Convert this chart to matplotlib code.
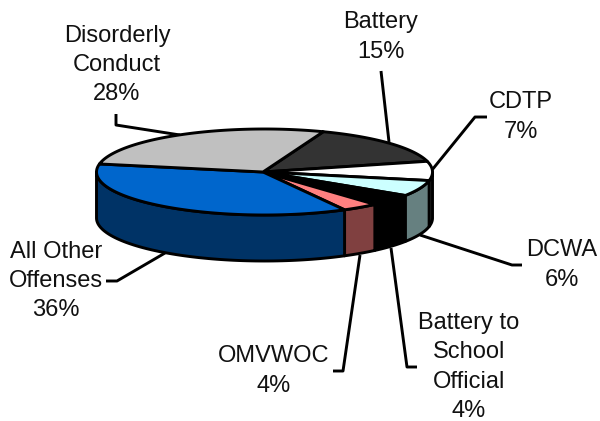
# -*- coding: utf-8 -*-
import numpy as np
import matplotlib
matplotlib.use('Agg')
import matplotlib.pyplot as plt
from matplotlib.patches import Polygon

plt.rcParams['font.family'] = ['Liberation Sans', 'DejaVu Sans']

# datos, en sentido horario desde Battery
nombres = ['Battery', 'CDTP', 'DCWA', 'Battery to\nSchool\nOfficial', 'OMVWOC',
           'All Other\nOffenses', 'Disorderly\nConduct']
etiquetas = [15, 7, 6, 4, 4, 36, 28]
# estimados del dibujo, los porcentajes de arriba vienen redondeados
valores = [15.3, 7.2, 6.0, 4.4, 3.5, 35.9, 27.7]
color_top = ['#333333', '#FFFFFF', '#CCFFFF', '#000000', '#FF8080', '#0066CC', '#C0C0C0']
color_lado = ['#1A1A1A', '#808080', '#668080', '#000000', '#804040', '#003366', '#606060']

# centro de cada etiqueta y recorrido de su linea guia, en pixeles
pos_label = [(381, 37), (521, 117), (562, 265), (469, 367), (274, 371), (56, 281), (117, 65)]
guias = [
    [(381, 71), (389, 142)],
    [(487, 117), (475, 117), (432, 170)],
    [(522, 265), (512, 265), (420, 235)],
    [(417, 367), (407, 367), (391, 248)],
    [(333, 371), (343, 371), (360, 255)],
    [(106, 281), (117, 281), (165, 253)],
    [(116, 114), (116, 125), (180, 135)],
]

# geometria del pastel
cx, cy = 264.5, 172.0
a, b = 168.0, 43.0
alto = 46.0
inicio = 69.5
lw = 2.1

fig = plt.figure(figsize=(6, 4.21), dpi=100)
ax = fig.add_axes([0, 0, 1, 1])
ax.set_xlim(0, 600)
ax.set_ylim(421, 0)
ax.axis('off')


def arco(t1, t2):
    t = np.radians(np.linspace(t1, t2, 80))
    return np.column_stack([cx + a * np.cos(t), cy - b * np.sin(t)])


# angulos de cada sector (van bajando porque es horario)
acum = np.cumsum([0] + valores) * 3.6
ang = inicio - acum

# primero los lados, luego las caras de arriba
for i in range(len(valores)):
    t1, t2 = ang[i], ang[i + 1]
    # solo se ve el lado entre -180 y 0
    t1v, t2v = min(t1, 0), max(t2, -180)
    if t1v <= t2v:
        continue
    arriba = arco(t1v, t2v)
    abajo = arriba[::-1] + [0, alto]
    ax.add_patch(Polygon(np.vstack([arriba, abajo]), closed=True, facecolor=color_lado[i],
                         edgecolor='black', linewidth=lw, joinstyle='round', zorder=2))

for i in range(len(valores)):
    pts = np.vstack([[cx - 1.5, cy], arco(ang[i], ang[i + 1])])
    ax.add_patch(Polygon(pts, closed=True, facecolor=color_top[i], edgecolor='black',
                         linewidth=lw, joinstyle='round', zorder=3))

for g in guias:
    g = np.array(g)
    ax.plot(g[:, 0], g[:, 1], color='black', linewidth=lw, solid_capstyle='butt', zorder=1)

for n, v, p in zip(nombres, etiquetas, pos_label):
    ax.text(p[0], p[1], '%s\n%d%%' % (n, v), ha='center', va='center', ma='center',
            fontsize=17, linespacing=1.44, color='#111111')

plt.savefig('out.png', dpi=100)
